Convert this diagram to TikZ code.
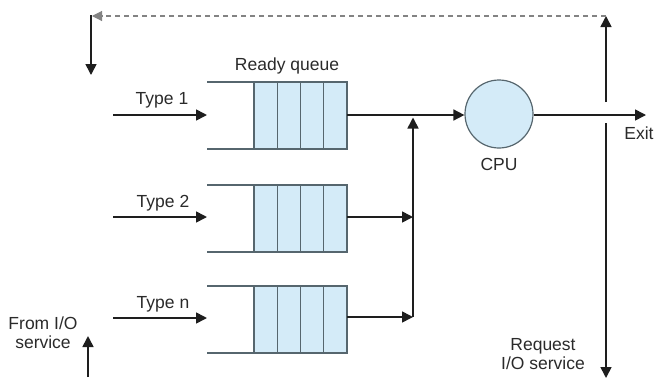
\documentclass[tikz,border=0pt]{standalone}
\usepackage{fontspec}
\setmainfont{Liberation Sans}
\usetikzlibrary{arrows.meta}
\definecolor{cellfill}{HTML}{D4EBF8}
\definecolor{cellline}{HTML}{56666E}
\definecolor{ink}{HTML}{1E1E1E}
\definecolor{txt}{HTML}{2A2A2A}
\begin{document}
\begin{tikzpicture}[x=1pt,y=-1pt,
  lbl/.style={text=txt,font=\fontsize{17.5}{19}\selectfont,inner sep=0pt,align=center},
  flow/.style={draw=ink,line width=1.6pt,-{Triangle[length=11pt,width=11pt]}},
  qbox/.style={draw=none,minimum width=93pt,minimum height=67pt,inner sep=0pt},
  proc/.style={circle,draw=cellline,fill=cellfill,line width=1.2pt,minimum size=68pt,inner sep=0pt}]
\useasboundingbox (0,0) rectangle (663,386);

% three ready queues: open-ended tube with four filled slots
\foreach \name/\top in {q1/82,q2/185,qn/286}{
  \node[qbox] (\name) at (300.5,\top+33.5) {};
  \foreach \i in {0,1,2,3}
    \draw[cellline,fill=cellfill,line width=1.1pt]
      (254+\i*23.25,\top) rectangle (254+\i*23.25+23.25,\top+67);
  \draw[cellline,line width=1.1pt] (207,\top) -- (254,\top) (207,\top+67) -- (254,\top+67);
}

\node[proc] (cpu) at (499,114) {};

% queue entries
\coordinate (in1) at (113,115);
\coordinate (in2) at (113,217);
\coordinate (inn) at (113,318);
\draw[flow] (in1) -- (207,115);
\draw[flow] (in2) -- (207,217);
\draw[flow] (inn) -- (207,318);

% merge into the CPU
\coordinate (j1) at (413,115);
\coordinate (j2) at (413,217);
\coordinate (jn) at (413,317);
\draw[flow] (q1.east |- j1) -- (cpu.west |- j1);
\draw[flow] (q2.east |- j2) -- (j2);
\draw[flow] (qn.east |- jn) -- (jn);
\draw[flow] (jn) -- (413,117.5);

% exit and I/O request
\coordinate (exit) at (646,115);
\draw[flow] (cpu.east |- exit) -- (exit);
\coordinate (upfrom) at (606,102);
\coordinate (corner) at (606,16);
\coordinate (back) at (92,16);
\draw[flow] (upfrom) -- (corner);
\draw[draw=ink!55,line width=1.1pt,dashed,dash pattern=on 5pt off 4pt,
      -{Triangle[length=10pt,width=10pt]}] (corner) -- (back);
\draw[flow] (91,15) -- (91,75);
\coordinate (req) at (606,123);
\draw[flow] (req) -- (606,378);

% return from I/O
\coordinate (io) at (88,377);
\draw[flow] (io) -- (88,336);

% labels
\node[lbl] (rq) at (287,66) {Ready queue};
\node[lbl] (t1) at (162,100) {Type 1};
\node[lbl] (t2) at (163,203) {Type 2};
\node[lbl] (tn) at (163,304) {Type n};
\node[lbl] (cpul) at (499,164) {CPU};
\node[lbl] (exitl) at (639,133) {Exit};
\node[lbl] (reql) at (543,354) {Request\\I/O service};
\node[lbl] (froml) at (43,333) {From I/O\\service};
\end{tikzpicture}
\end{document}
